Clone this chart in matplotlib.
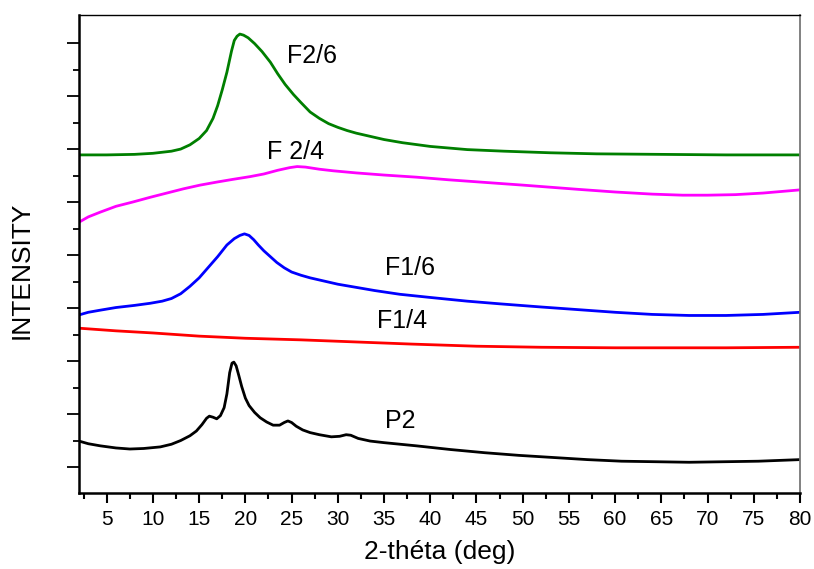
import matplotlib
matplotlib.use("Agg")
import matplotlib.pyplot as plt
from matplotlib.ticker import FixedLocator, NullFormatter

plt.rcParams['font.family'] = ['Liberation Sans', 'DejaVu Sans']

# ---- data (2-theta in deg, offset intensity in arbitrary units) ----
f26_x = [2, 5, 8, 10, 12, 13, 14, 15, 15.8, 16.5, 17, 17.5, 18, 18.5, 18.8, 19.1,
         19.4, 19.8, 20.3, 21.0, 21.8, 22.7, 23.5, 24.3, 25.2, 26.0, 27, 28, 29,
         30, 31, 32, 33.5, 35, 37, 40, 44, 48, 53, 58, 65, 72, 80]
f26_y = [5.89, 5.89, 5.90, 5.92, 5.96, 6.00, 6.08, 6.20, 6.35, 6.58, 6.82, 7.12,
         7.45, 7.85, 8.05, 8.13, 8.17, 8.15, 8.10, 7.99, 7.84, 7.64, 7.42, 7.22,
         7.03, 6.88, 6.70, 6.58, 6.48, 6.41, 6.35, 6.30, 6.24, 6.18, 6.12, 6.05,
         5.99, 5.96, 5.93, 5.91, 5.90, 5.89, 5.89]

f24_x = [2, 3, 4.3, 6, 7.8, 9.7, 11.5, 13.3, 15.1, 17, 18.7, 20.5, 22, 23.5, 24.8,
         25.6, 26.5, 28, 29.5, 32, 35, 38.5, 42, 46, 50, 53, 56, 60, 64, 67.3, 70,
         73, 76, 78, 80]
f24_y = [4.62, 4.72, 4.81, 4.92, 5.00, 5.09, 5.17, 5.25, 5.32, 5.38, 5.43, 5.48,
         5.53, 5.60, 5.65, 5.67, 5.66, 5.62, 5.59, 5.55, 5.51, 5.47, 5.42, 5.37,
         5.32, 5.28, 5.24, 5.19, 5.15, 5.13, 5.13, 5.14, 5.17, 5.20, 5.23]

f16_x = [2, 3, 4.3, 6, 8, 9.7, 11, 12, 13, 14, 15, 16, 17, 18, 18.8, 19.4, 19.9,
         20.4, 20.9, 21.4, 22, 22.7, 23.4, 24.2, 25, 26, 27, 28.5, 30, 32, 34, 36.7,
         40, 44, 47.5, 52, 56, 60, 64, 68, 72, 76, 80]
f16_y = [2.87, 2.92, 2.96, 3.01, 3.05, 3.09, 3.13, 3.18, 3.27, 3.41, 3.57, 3.77,
         3.97, 4.19, 4.31, 4.37, 4.40, 4.37, 4.29, 4.19, 4.08, 3.97, 3.86, 3.76,
         3.68, 3.62, 3.57, 3.51, 3.45, 3.39, 3.33, 3.26, 3.20, 3.13, 3.08, 3.02,
         2.97, 2.92, 2.88, 2.86, 2.86, 2.88, 2.92]

f14_x = [2, 6, 10, 15, 20, 26, 32, 38, 45, 52, 60, 66, 72, 80]
f14_y = [2.62, 2.57, 2.53, 2.47, 2.43, 2.40, 2.36, 2.32, 2.28, 2.26, 2.25, 2.25,
         2.25, 2.26]

p2_x = [2, 3, 4.3, 6, 7.5, 9, 10.8, 12, 13, 14, 14.7, 15.3, 15.8, 16.1, 16.5,
        16.9, 17.3, 17.7, 18.0, 18.3, 18.55, 18.75, 19.0, 19.3, 19.6, 20.0, 20.4,
        21.0, 21.6, 22.3, 23.0, 23.7, 24.2, 24.6, 25.0, 25.5, 26.2, 27.0, 28.0,
        29.3, 30.2, 30.9, 31.4, 32.2, 33.5, 35, 38.5, 42.2, 45.9, 49.6, 53.3, 57,
        60.7, 64.4, 68, 71.8, 75.5, 80]
p2_y = [0.49, 0.44, 0.40, 0.36, 0.34, 0.35, 0.38, 0.43, 0.50, 0.59, 0.68, 0.80,
        0.92, 0.96, 0.94, 0.91, 0.97, 1.12, 1.38, 1.78, 1.96, 1.98, 1.91, 1.72,
        1.52, 1.30, 1.16, 1.03, 0.93, 0.85, 0.79, 0.79, 0.84, 0.87, 0.84, 0.77,
        0.70, 0.65, 0.61, 0.57, 0.58, 0.61, 0.60, 0.54, 0.49, 0.46, 0.40, 0.33,
        0.27, 0.22, 0.18, 0.14, 0.11, 0.10, 0.09, 0.10, 0.11, 0.14]

series = [
    (f26_x, f26_y, '#007f00', 'F2/6', 27.2, 7.76),
    (f24_x, f24_y, '#ff00ff', 'F 2/4', 25.4, 5.95),
    (f16_x, f16_y, '#0000ff', 'F1/6', 37.8, 3.76),
    (f14_x, f14_y, '#ff0000', 'F1/4', 36.9, 2.76),
    (p2_x, p2_y, '#000000', 'P2', 36.7, 0.86),
]

x_major = [5, 10, 15, 20, 25, 30, 35, 40, 45, 50, 55, 60, 65, 70, 75, 80]
x_minor = [2.5 + 5 * i for i in range(16)]
y_major = [0, 1, 2, 3, 4, 5, 6, 7, 8]
y_minor = [0.5 + i for i in range(8)]

fig = plt.figure(figsize=(8.14, 5.69), dpi=100)
ax = fig.add_axes([79 / 814, 76 / 569, 721 / 814, 478 / 569])

for xs, ys, col, lab, lx, ly in series:
    ax.plot(xs, ys, color=col, lw=2.0, solid_joinstyle='round',
            solid_capstyle='round')
    ax.text(lx, ly, lab, fontsize=18, ha='center', va='center', color='black')

ax.set_xlim(2, 80)
ax.set_ylim(-0.49, 8.53)

ax.xaxis.set_major_locator(FixedLocator(x_major))
ax.xaxis.set_minor_locator(FixedLocator(x_minor))
ax.yaxis.set_major_locator(FixedLocator(y_major))
ax.yaxis.set_minor_locator(FixedLocator(y_minor))
ax.yaxis.set_major_formatter(NullFormatter())

ax.tick_params(axis='x', which='major', direction='out', length=7, width=1.5,
               labelsize=15, pad=5)
ax.tick_params(axis='x', which='minor', direction='out', length=4, width=1.5)
ax.tick_params(axis='y', which='major', direction='out', length=8.5, width=1.3)
ax.tick_params(axis='y', which='minor', direction='out', length=4, width=1.3)

ax.spines['left'].set_linewidth(1.8)
ax.spines['bottom'].set_linewidth(1.8)
ax.spines['top'].set_linewidth(1.0)
ax.spines['right'].set_linewidth(1.3)
ax.spines['right'].set_color('#777777')

ax.set_xlabel('2-théta (deg)', fontsize=19, labelpad=8)
fig.text(22 / 814, 1 - 270 / 569, 'INTENSITY', rotation=90, fontsize=19,
         ha='center', va='center')

fig.savefig('out.png', dpi=100)
